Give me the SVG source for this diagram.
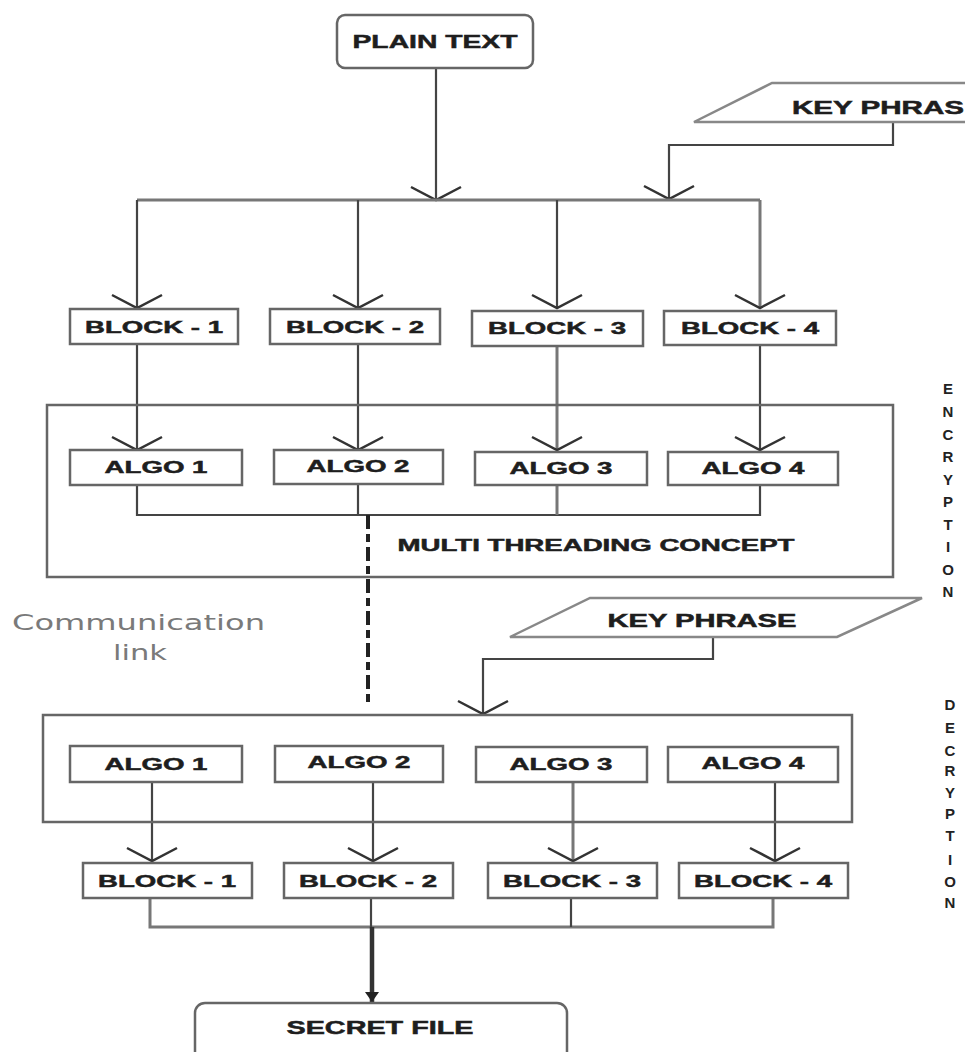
<svg xmlns="http://www.w3.org/2000/svg" width="965" height="1052" viewBox="0 0 965 1052">
<style>
.box{fill:#fff;stroke:#666;stroke-width:2.5}
.frame{fill:none;stroke:#666;stroke-width:2.5}
.ln{fill:none;stroke:#444;stroke-width:2.2}
.gl{fill:none;stroke:#777;stroke-width:3}
.lbl{font-family:"Liberation Sans",Arial,sans-serif;font-weight:bold;fill:#1e1e1e;stroke:#1e1e1e;stroke-width:0.5;text-anchor:middle}
.side{font-family:"Liberation Sans",Arial,sans-serif;font-weight:bold;fill:#222;font-size:15px;text-anchor:middle}
.com{font-family:"DejaVu Sans","Liberation Sans",sans-serif;fill:#7a7a7a;font-size:22px}
</style>
<defs>
<marker id="v" markerUnits="userSpaceOnUse" markerWidth="60" markerHeight="60" viewBox="-30 -30 60 60" refX="0" refY="0" orient="auto" overflow="visible">
<path d="M-13,-25 L0,0 L-13,25" fill="none" stroke="#333" stroke-width="2.5"/>
</marker>
<marker id="f" markerUnits="userSpaceOnUse" markerWidth="20" markerHeight="20" viewBox="-10 -10 20 20" refX="0" refY="0" orient="auto" overflow="visible">
<path d="M-10,-7 L0,0 L-10,7 z" fill="#222"/>
</marker>
</defs>
<rect width="965" height="1052" fill="#fff"/>

<g id="connectors">
<line class="ln" x1="436" y1="68" x2="436" y2="200" stroke-width="4" stroke="#222" marker-end="url(#v)"/>
<polyline class="ln" points="893,122 893,145 669,145 669,199" marker-end="url(#v)"/>
<line class="gl" x1="137" y1="200" x2="760" y2="200"/>
<line class="ln" x1="137" y1="200" x2="137" y2="308" marker-end="url(#v)"/>
<line class="ln" x1="358" y1="200" x2="358" y2="308" marker-end="url(#v)"/>
<line class="ln" x1="557" y1="200" x2="557" y2="308" marker-end="url(#v)"/>
<line class="gl" x1="760" y1="200" x2="760" y2="308" marker-end="url(#v)"/>
<line class="ln" x1="137" y1="344" x2="137" y2="450" marker-end="url(#v)"/>
<line class="ln" x1="358" y1="344" x2="358" y2="450" marker-end="url(#v)"/>
<line class="gl" x1="557" y1="346" x2="557" y2="450" marker-end="url(#v)"/>
<line class="ln" x1="760" y1="344" x2="760" y2="450" marker-end="url(#v)"/>
<polyline class="ln" points="137,485 137,515 760,515 760,485"/>
<line class="ln" x1="358" y1="485" x2="358" y2="515"/>
<line class="gl" x1="557" y1="485" x2="557" y2="515"/>
<line x1="368" y1="515" x2="368" y2="705" stroke="#222" stroke-width="4" stroke-dasharray="14,5,8,5"/>
<polyline class="ln" points="713,637 713,659 483,659 483,714" marker-end="url(#v)"/>
<line class="ln" x1="152" y1="782" x2="152" y2="861" marker-end="url(#v)"/>
<line class="ln" x1="373" y1="782" x2="373" y2="861" marker-end="url(#v)"/>
<line class="gl" x1="573" y1="782" x2="573" y2="861" marker-end="url(#v)"/>
<line class="ln" x1="775" y1="782" x2="775" y2="861" marker-end="url(#v)"/>
<polyline class="gl" points="150,898 150,927 773,927 773,898"/>
<line class="ln" x1="371" y1="898" x2="371" y2="927"/>
<line class="ln" x1="571" y1="898" x2="571" y2="927"/>
<line x1="372" y1="927" x2="372" y2="1002" stroke="#333" stroke-width="4.5" marker-end="url(#f)"/>
</g>

<g id="plain-text">
<rect class="box" x="337" y="15" width="196" height="53" rx="8"/>
<text class="lbl" x="435" y="48" font-size="19" textLength="165" lengthAdjust="spacingAndGlyphs">PLAIN TEXT</text>
</g>

<g id="key-phrase-top">
<polyline points="965,83 772,83 694,122 965,122" fill="#fff" stroke="#888" stroke-width="2.5"/>
<text class="lbl" x="792" y="114" font-size="18" style="text-anchor:start" textLength="172" lengthAdjust="spacingAndGlyphs">KEY PHRAS</text>
</g>

<g id="enc-block-1"><rect class="box" x="70" y="309" width="168" height="35"/><text class="lbl" x="154" y="333" font-size="17" textLength="138" lengthAdjust="spacingAndGlyphs">BLOCK - 1</text></g>
<g id="enc-block-2"><rect class="box" x="270" y="309" width="170" height="35"/><text class="lbl" x="355" y="333" font-size="17" textLength="138" lengthAdjust="spacingAndGlyphs">BLOCK - 2</text></g>
<g id="enc-block-3"><rect class="box" x="472" y="311" width="171" height="35"/><text class="lbl" x="557" y="334" font-size="17" textLength="138" lengthAdjust="spacingAndGlyphs">BLOCK - 3</text></g>
<g id="enc-block-4"><rect class="box" x="664" y="311" width="172" height="34"/><text class="lbl" x="750" y="334" font-size="17" textLength="138" lengthAdjust="spacingAndGlyphs">BLOCK - 4</text></g>

<g id="encryption-frame">
<rect class="frame" x="47" y="405" width="846" height="172"/>
<text class="lbl" x="596" y="551" font-size="16" textLength="397" lengthAdjust="spacingAndGlyphs">MULTI THREADING CONCEPT</text>
</g>

<g id="enc-algo-1"><rect class="box" x="70" y="450" width="172" height="35"/><text class="lbl" x="156" y="473" font-size="17" textLength="103" lengthAdjust="spacingAndGlyphs">ALGO 1</text></g>
<g id="enc-algo-2"><rect class="box" x="274" y="450" width="169" height="34"/><text class="lbl" x="358" y="472" font-size="17" textLength="103" lengthAdjust="spacingAndGlyphs">ALGO 2</text></g>
<g id="enc-algo-3"><rect class="box" x="475" y="452" width="172" height="33"/><text class="lbl" x="561" y="474" font-size="17" textLength="103" lengthAdjust="spacingAndGlyphs">ALGO 3</text></g>
<g id="enc-algo-4"><rect class="box" x="668" y="452" width="170" height="33"/><text class="lbl" x="753" y="474" font-size="17" textLength="103" lengthAdjust="spacingAndGlyphs">ALGO 4</text></g>

<g id="encryption-label">
<text class="side" x="948" y="394">E</text>
<text class="side" x="948" y="417">N</text>
<text class="side" x="948" y="440">C</text>
<text class="side" x="948" y="462">R</text>
<text class="side" x="948" y="485">Y</text>
<text class="side" x="948" y="507">P</text>
<text class="side" x="948" y="530">T</text>
<text class="side" x="948" y="552">I</text>
<text class="side" x="948" y="575">O</text>
<text class="side" x="948" y="597">N</text>
</g>

<g id="communication-link">
<text class="com" x="12" y="630" textLength="253" lengthAdjust="spacingAndGlyphs">Communication</text>
<text class="com" x="113" y="660" textLength="54" lengthAdjust="spacingAndGlyphs">link</text>
</g>

<g id="key-phrase-bottom">
<polygon points="590,598 922,598 837,637 510,637" fill="#fff" stroke="#888" stroke-width="2.5"/>
<text class="lbl" x="702" y="627" font-size="18" textLength="189" lengthAdjust="spacingAndGlyphs">KEY PHRASE</text>
</g>

<g id="decryption-frame">
<rect class="frame" x="43" y="715" width="809" height="107"/>
</g>

<g id="dec-algo-1"><rect class="box" x="70" y="746" width="172" height="36"/><text class="lbl" x="156" y="770" font-size="17" textLength="103" lengthAdjust="spacingAndGlyphs">ALGO 1</text></g>
<g id="dec-algo-2"><rect class="box" x="275" y="746" width="168" height="36"/><text class="lbl" x="359" y="768" font-size="17" textLength="103" lengthAdjust="spacingAndGlyphs">ALGO 2</text></g>
<g id="dec-algo-3"><rect class="box" x="476" y="747" width="171" height="35"/><text class="lbl" x="561" y="770" font-size="17" textLength="103" lengthAdjust="spacingAndGlyphs">ALGO 3</text></g>
<g id="dec-algo-4"><rect class="box" x="668" y="747" width="170" height="35"/><text class="lbl" x="753" y="769" font-size="17" textLength="103" lengthAdjust="spacingAndGlyphs">ALGO 4</text></g>

<g id="dec-block-1"><rect class="box" x="83" y="863" width="169" height="35"/><text class="lbl" x="167" y="887" font-size="17" textLength="138" lengthAdjust="spacingAndGlyphs">BLOCK - 1</text></g>
<g id="dec-block-2"><rect class="box" x="284" y="863" width="169" height="35"/><text class="lbl" x="368" y="887" font-size="17" textLength="138" lengthAdjust="spacingAndGlyphs">BLOCK - 2</text></g>
<g id="dec-block-3"><rect class="box" x="488" y="863" width="169" height="35"/><text class="lbl" x="572" y="887" font-size="17" textLength="138" lengthAdjust="spacingAndGlyphs">BLOCK - 3</text></g>
<g id="dec-block-4"><rect class="box" x="679" y="863" width="169" height="35"/><text class="lbl" x="763" y="887" font-size="17" textLength="138" lengthAdjust="spacingAndGlyphs">BLOCK - 4</text></g>

<g id="decryption-label">
<text class="side" x="950" y="710">D</text>
<text class="side" x="950" y="733">E</text>
<text class="side" x="950" y="756">C</text>
<text class="side" x="950" y="776">R</text>
<text class="side" x="950" y="798">Y</text>
<text class="side" x="950" y="819">P</text>
<text class="side" x="950" y="841">T</text>
<text class="side" x="950" y="865">I</text>
<text class="side" x="950" y="887">O</text>
<text class="side" x="950" y="908">N</text>
</g>

<g id="secret-file">
<rect class="box" x="195" y="1003" width="372" height="70" rx="10"/>
<text class="lbl" x="380" y="1034" font-size="18" textLength="187" lengthAdjust="spacingAndGlyphs">SECRET FILE</text>
</g>
</svg>
